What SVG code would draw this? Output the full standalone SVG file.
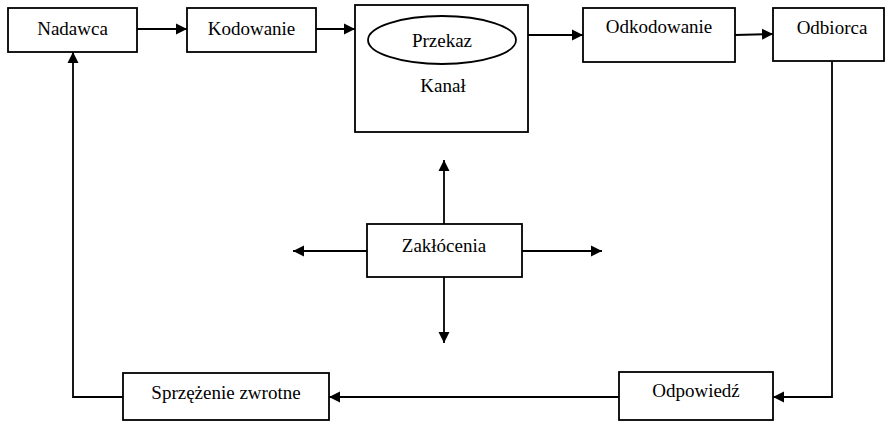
<svg xmlns="http://www.w3.org/2000/svg" width="885" height="422" viewBox="0 0 885 422">
<style>
  rect.box { fill: #ffffff; stroke: #000000; stroke-width: 1.8; }
  ellipse.ov { fill: #ffffff; stroke: #000000; stroke-width: 1.8; }
  text { font-family: "Liberation Serif", "Times New Roman", serif; font-size: 19px; fill: #000000; text-anchor: middle; }
  .conn { fill: none; stroke: #000000; stroke-width: 1.8; marker-end: url(#ah); }
</style>
<defs>
  <marker id="ah" markerUnits="userSpaceOnUse" markerWidth="12" markerHeight="12" refX="11" refY="6" orient="auto">
    <path d="M0,0.5 L11,6 L0,11.5 z" fill="#000000"/>
  </marker>
</defs>
<rect width="885" height="422" fill="#ffffff"/>
<g id="connectors">
  <line class="conn" x1="137" y1="29" x2="187" y2="29"/>
  <line class="conn" x1="316" y1="29" x2="355" y2="29"/>
  <line class="conn" x1="528" y1="35" x2="583" y2="35"/>
  <line class="conn" x1="735" y1="35" x2="773" y2="34"/>
  <polyline class="conn" points="832,61 832,397 773,397"/>
  <line class="conn" x1="619" y1="397" x2="329" y2="397"/>
  <polyline class="conn" points="123,397 73,397 73,52"/>
  <line class="conn" x1="444" y1="224" x2="444" y2="160"/>
  <line class="conn" x1="444" y1="277" x2="444" y2="343"/>
  <line class="conn" x1="367" y1="251" x2="293" y2="251"/>
  <line class="conn" x1="522" y1="251" x2="602" y2="251"/>
</g>
<g id="nadawca">
  <rect class="box" x="8" y="8" width="129" height="44"/>
  <text x="72.5" y="35">Nadawca</text>
</g>
<g id="kodowanie">
  <rect class="box" x="187" y="8" width="129" height="44"/>
  <text x="251.5" y="35">Kodowanie</text>
</g>
<g id="kanal">
  <rect class="box" x="355" y="5" width="173" height="127"/>
  <ellipse class="ov" cx="442" cy="40" rx="74" ry="24"/>
  <text x="442" y="47">Przekaz</text>
  <text x="443" y="92">Kanał</text>
</g>
<g id="odkodowanie">
  <rect class="box" x="583" y="8" width="152" height="54"/>
  <text x="659" y="33">Odkodowanie</text>
</g>
<g id="odbiorca">
  <rect class="box" x="773" y="8" width="111" height="53"/>
  <text x="832" y="34">Odbiorca</text>
</g>
<g id="zaklocenia">
  <rect class="box" x="367" y="224" width="155" height="53"/>
  <text x="444" y="252">Zakłócenia</text>
</g>
<g id="odpowiedz">
  <rect class="box" x="619" y="372" width="154" height="48"/>
  <text x="696" y="397">Odpowiedź</text>
</g>
<g id="sprzezenie">
  <rect class="box" x="123" y="373" width="206" height="47"/>
  <text x="226" y="399">Sprzężenie zwrotne</text>
</g>
</svg>
